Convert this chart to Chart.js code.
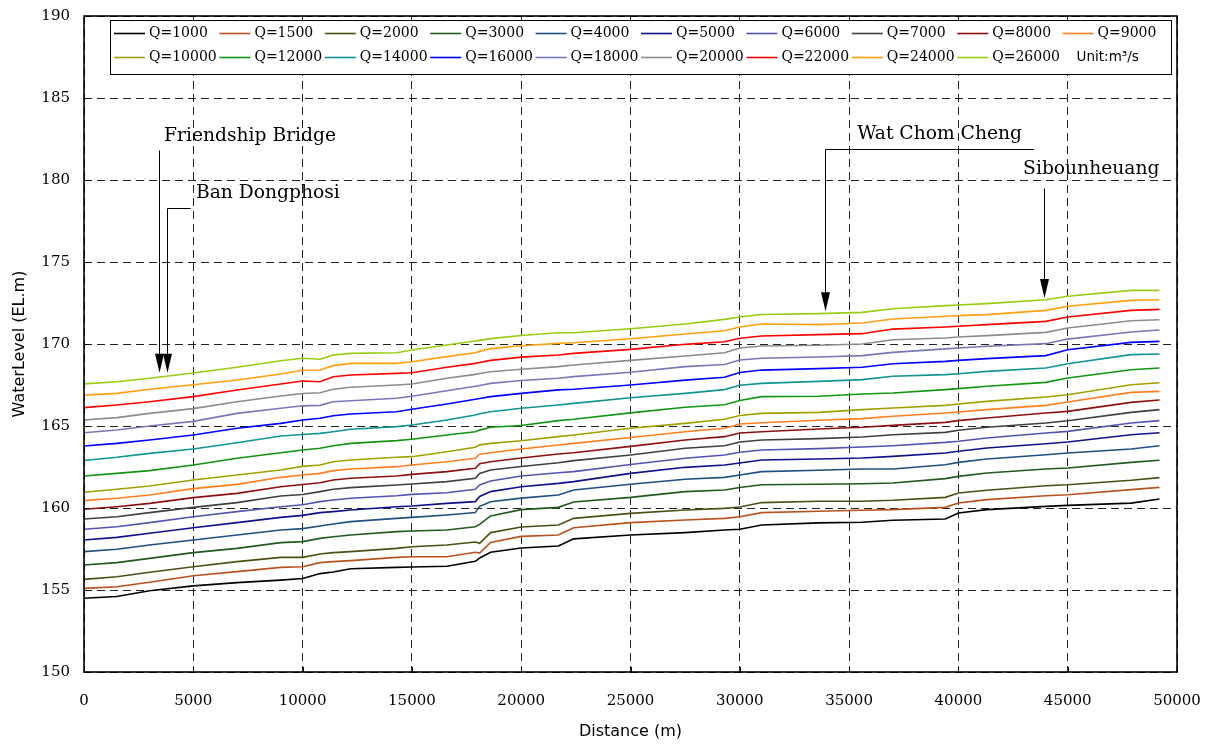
<!DOCTYPE html>
<html>
<head>
<meta charset="utf-8">
<script src="https://cdn.jsdelivr.net/npm/chart.js@4.4.1/dist/chart.umd.min.js"></script>
<style>
  html, body { margin: 0; padding: 0; background: #fff; }
  #wrap { width: 1216px; height: 746px; }
</style>
</head>
<body>
<div id="wrap"><canvas id="profile" width="1216" height="746"></canvas></div>
<script>
// distance along the river (m)
const distances = [0, 1500, 3000, 5000, 7000, 9000, 10000, 10800, 11400, 12200, 14300, 15000, 16600, 17900, 18100, 18600, 20000,
  21700, 22400, 25000, 27500, 29300, 30000, 31000, 33600, 35600, 37000, 39400, 40000, 41300, 44000, 45000, 47900, 49200];

const flows = [1000, 1500, 2000, 3000, 4000, 5000, 6000, 7000, 8000, 9000, 10000, 12000, 14000, 16000, 18000, 20000, 22000, 24000, 26000];

// water level (EL.m) for each discharge
const wl1000 = [154.5, 154.6, 154.95, 155.25, 155.45, 155.6, 155.7, 156.0, 156.1, 156.3, 156.38, 156.4, 156.45, 156.75, 156.95, 157.3, 157.56,
  157.68, 158.12, 158.35, 158.5, 158.66, 158.7, 158.96, 159.09, 159.13, 159.25, 159.33, 159.7, 159.9, 160.1, 160.16, 160.3, 160.55];
const wl1500 = [155.1, 155.2, 155.47, 155.87, 156.12, 156.38, 156.42, 156.67, 156.73, 156.79, 156.99, 157.03, 157.03, 157.3, 157.25, 157.9, 158.27,
  158.35, 158.8, 159.11, 159.27, 159.37, 159.47, 159.72, 159.8, 159.86, 159.9, 160.04, 160.3, 160.51, 160.75, 160.81, 161.12, 161.26];
const wl2000 = [155.65, 155.81, 156.08, 156.42, 156.73, 156.99, 156.99, 157.2, 157.28, 157.34, 157.54, 157.64, 157.74, 157.93, 157.85, 158.5, 158.84,
  158.96, 159.37, 159.67, 159.88, 159.98, 160.06, 160.33, 160.41, 160.41, 160.47, 160.65, 160.91, 161.08, 161.36, 161.42, 161.69, 161.85];
const wl3000 = [156.52, 156.67, 156.93, 157.28, 157.54, 157.89, 157.95, 158.15, 158.25, 158.35, 158.56, 158.6, 158.66, 158.86, 159.0, 159.52, 159.9,
  160.04, 160.37, 160.65, 161.0, 161.1, 161.25, 161.42, 161.45, 161.48, 161.52, 161.79, 161.93, 162.13, 162.38, 162.44, 162.78, 162.91];
const wl4000 = [157.34, 157.48, 157.74, 158.05, 158.35, 158.66, 158.74, 158.9, 159.02, 159.17, 159.37, 159.43, 159.57, 159.72, 160.1, 160.38, 160.6,
  160.79, 161.1, 161.45, 161.75, 161.87, 162.01, 162.22, 162.3, 162.38, 162.38, 162.64, 162.78, 162.99, 163.25, 163.35, 163.6, 163.8];
const wl5000 = [158.05, 158.21, 158.46, 158.8, 159.11, 159.43, 159.55, 159.72, 159.78, 159.88, 160.08, 160.12, 160.28, 160.39, 160.7, 161.0, 161.3,
  161.5, 161.61, 162.11, 162.48, 162.62, 162.74, 162.93, 162.99, 163.05, 163.15, 163.35, 163.46, 163.66, 163.92, 164.02, 164.47, 164.59];
const wl6000 = [158.7, 158.86, 159.11, 159.47, 159.78, 160.08, 160.2, 160.39, 160.49, 160.59, 160.75, 160.83, 160.93, 161.14, 161.4, 161.65, 161.95,
  162.15, 162.22, 162.65, 163.03, 163.23, 163.4, 163.54, 163.62, 163.72, 163.8, 164.0, 164.07, 164.27, 164.57, 164.67, 165.18, 165.33];
const wl7000 = [159.33, 159.47, 159.72, 160.04, 160.33, 160.73, 160.82, 161.0, 161.14, 161.24, 161.4, 161.46, 161.61, 161.81, 162.1, 162.32, 162.53,
  162.76, 162.89, 163.23, 163.64, 163.8, 164.02, 164.15, 164.23, 164.33, 164.47, 164.61, 164.74, 164.92, 165.18, 165.32, 165.83, 166.0];
const wl8000 = [159.92, 160.08, 160.28, 160.63, 160.89, 161.3, 161.43, 161.54, 161.71, 161.81, 161.95, 162.05, 162.22, 162.42, 162.7, 162.82, 163.05,
  163.29, 163.37, 163.76, 164.15, 164.35, 164.57, 164.65, 164.82, 164.92, 165.04, 165.22, 165.33, 165.49, 165.79, 165.89, 166.44, 166.59];
const wl9000 = [160.45, 160.59, 160.79, 161.18, 161.44, 161.87, 162.01, 162.11, 162.28, 162.38, 162.52, 162.62, 162.82, 163.03, 163.28, 163.37, 163.6,
  163.84, 163.94, 164.3, 164.65, 164.86, 165.12, 165.2, 165.35, 165.45, 165.59, 165.79, 165.85, 166.0, 166.26, 166.46, 167.05, 167.11];
const wl10000 = [160.96, 161.14, 161.34, 161.71, 162.01, 162.32, 162.54, 162.62, 162.82, 162.93, 163.09, 163.13, 163.43, 163.7, 163.85, 163.94, 164.1,
  164.35, 164.45, 164.86, 165.16, 165.41, 165.64, 165.77, 165.83, 166.0, 166.1, 166.26, 166.34, 166.5, 166.77, 166.91, 167.52, 167.64];
const wl12000 = [161.95, 162.11, 162.28, 162.62, 163.03, 163.37, 163.54, 163.64, 163.8, 163.94, 164.11, 164.19, 164.45, 164.65, 164.75, 164.92, 165.03,
  165.33, 165.41, 165.8, 166.14, 166.3, 166.56, 166.79, 166.81, 166.95, 167.01, 167.22, 167.28, 167.42, 167.66, 167.93, 168.43, 168.54];
const wl14000 = [162.9, 163.09, 163.33, 163.6, 163.98, 164.39, 164.48, 164.55, 164.65, 164.8, 164.96, 165.06, 165.37, 165.67, 165.75, 165.87, 166.08,
  166.28, 166.38, 166.72, 166.99, 167.22, 167.48, 167.6, 167.72, 167.83, 168.03, 168.13, 168.19, 168.33, 168.54, 168.8, 169.35, 169.39];
const wl16000 = [163.78, 163.94, 164.15, 164.45, 164.86, 165.16, 165.37, 165.47, 165.63, 165.73, 165.87, 166.02, 166.34, 166.63, 166.68, 166.79, 166.99,
  167.2, 167.24, 167.5, 167.8, 167.97, 168.26, 168.41, 168.5, 168.58, 168.8, 168.94, 169.0, 169.11, 169.29, 169.65, 170.1, 170.16];
const wl18000 = [164.59, 164.76, 165.0, 165.28, 165.77, 166.08, 166.23, 166.26, 166.48, 166.54, 166.69, 166.81, 167.15, 167.42, 167.47, 167.6, 167.77,
  167.91, 168.01, 168.28, 168.62, 168.75, 169.02, 169.13, 169.21, 169.29, 169.49, 169.7, 169.76, 169.86, 170.02, 170.3, 170.73, 170.85];
const wl20000 = [165.37, 165.51, 165.77, 166.06, 166.48, 166.83, 166.98, 167.03, 167.24, 167.36, 167.5, 167.56, 167.91, 168.15, 168.2, 168.31, 168.46,
  168.62, 168.72, 169.0, 169.27, 169.47, 169.76, 169.88, 169.92, 170.0, 170.26, 170.37, 170.43, 170.51, 170.71, 170.98, 171.42, 171.48];
const wl22000 = [166.12, 166.28, 166.48, 166.79, 167.2, 167.56, 167.74, 167.7, 168.0, 168.11, 168.21, 168.25, 168.58, 168.82, 168.87, 169.0, 169.2,
  169.33, 169.43, 169.67, 169.98, 170.14, 170.35, 170.49, 170.57, 170.63, 170.91, 171.04, 171.08, 171.18, 171.38, 171.65, 172.05, 172.11];
const wl24000 = [166.88, 166.99, 167.24, 167.52, 167.8, 168.17, 168.4, 168.41, 168.68, 168.82, 168.82, 168.92, 169.23, 169.47, 169.55, 169.72, 169.89,
  170.04, 170.08, 170.32, 170.61, 170.81, 171.04, 171.22, 171.18, 171.28, 171.52, 171.69, 171.73, 171.79, 172.05, 172.3, 172.66, 172.7];
const wl26000 = [167.57, 167.7, 167.91, 168.23, 168.58, 168.98, 169.13, 169.07, 169.33, 169.43, 169.47, 169.63, 169.94, 170.18, 170.22, 170.33, 170.52,
  170.69, 170.69, 170.93, 171.22, 171.5, 171.65, 171.8, 171.85, 171.93, 172.15, 172.34, 172.38, 172.46, 172.7, 172.91, 173.27, 173.27];

const levels = [wl1000, wl1500, wl2000, wl3000, wl4000, wl5000, wl6000, wl7000, wl8000, wl9000,
  wl10000, wl12000, wl14000, wl16000, wl18000, wl20000, wl22000, wl24000, wl26000];

const xTicks = [0, 5000, 10000, 15000, 20000, 25000, 30000, 35000, 40000, 45000, 50000];
const yTicks = [150, 155, 160, 165, 170, 175, 180, 185, 190];

// station names and their distance (m)
const stationNames = ['Friendship Bridge', 'Ban Dongphosi', 'Wat Chom Cheng', 'Sibounheuang'];
const stationDistances = [3440, 3780, 33890, 43920];

const lineColors = [
  '#000000', '#b8521e', '#4e4e14', '#1f5a1f', '#1f5080', '#10108a', '#5454b0', '#404040', '#8c1010', '#ff7f20',
  '#a0a000', '#129612', '#109494', '#0000ff', '#7878b8', '#8c8c8c', '#ff0000', '#ffa010', '#99cc10',
];

const SERIF = "'DejaVu Serif', serif";
const SANS = "'DejaVu Sans', sans-serif";

function buildDatasets() {
  return flows.map((q, k) => ({
    label: `Q=${q}`,
    data: distances.map((d, i) => ({ x: d, y: levels[k][i] })),
    borderColor: lineColors[k],
    borderWidth: 1.6,
    pointRadius: 0,
    tension: 0,
  }));
}

// solid frame round the plot, with short inward ticks
const frame = {
  id: 'frame',
  afterDatasetsDraw(chart) {
    const { ctx, chartArea: a, scales } = chart;
    ctx.save();
    ctx.strokeStyle = '#000';
    ctx.lineWidth = 1.6;
    ctx.strokeRect(a.left, a.top, a.right - a.left, a.bottom - a.top);
    ctx.lineWidth = 1;
    ctx.beginPath();
    xTicks.forEach((t) => {
      const x = Math.round(scales.x.getPixelForValue(t)) + 0.5;
      ctx.moveTo(x, a.bottom);
      ctx.lineTo(x, a.bottom - 5);
    });
    yTicks.forEach((t) => {
      const y = Math.round(scales.y.getPixelForValue(t)) + 0.5;
      ctx.moveTo(a.left, y);
      ctx.lineTo(a.left + 5, y);
    });
    ctx.stroke();
    ctx.restore();
  },
};

function arrowHead(ctx, x, y) {
  ctx.beginPath();
  ctx.moveTo(x, y);
  ctx.lineTo(x - 4.5, y - 19);
  ctx.lineTo(x + 4.5, y - 19);
  ctx.closePath();
  ctx.fill();
}

// station names with leader arrows
const stations = {
  id: 'stations',
  afterDatasetsDraw(chart) {
    const { ctx, scales } = chart;
    const X = (v) => scales.x.getPixelForValue(v);
    const Y = (v) => scales.y.getPixelForValue(v);
    // label anchor (distance, level), leader start level, elbow end distance, arrow tip level
    const layout = [
      { lx: 3660, ly: 182.4, from: 181.8, elbow: null, tip: 168.25 },
      { lx: 5120, ly: 178.9, from: 178.27, elbow: 4880, tip: 168.25 },
      { lx: 35370, ly: 182.5, from: 181.87, elbow: 43460, tip: 172.0 },
      { lx: 42960, ly: 180.35, from: 179.5, elbow: null, tip: 172.8 },
    ];
    ctx.save();
    ctx.fillStyle = '#000';
    ctx.strokeStyle = '#000';
    ctx.lineWidth = 1;
    ctx.font = `18.7px ${SERIF}`;
    ctx.textBaseline = 'alphabetic';
    ctx.textAlign = 'left';
    stationNames.forEach((name, i) => {
      const L = layout[i];
      const ax = Math.round(X(stationDistances[i])) + 0.5;
      const fy = Math.round(Y(L.from)) + 0.5;
      const ty = Y(L.tip);
      ctx.fillText(name, X(L.lx), Y(L.ly));
      ctx.beginPath();
      if (L.elbow !== null) {
        ctx.moveTo(X(L.elbow), fy);
        ctx.lineTo(ax, fy);
      } else {
        ctx.moveTo(ax, fy);
      }
      ctx.lineTo(ax, ty - 15);
      ctx.stroke();
      arrowHead(ctx, ax, ty);
    });
    ctx.restore();
  },
};

// boxed legend inside the plot, two rows of ten
const legendBox = {
  id: 'legendBox',
  afterDatasetsDraw(chart) {
    const { ctx, chartArea: a } = chart;
    const left = a.left + 26;
    const top = a.top + 4;
    const w = a.right - a.left - 32;
    const h = 54;
    const col = 105.4;
    ctx.save();
    ctx.fillStyle = '#fff';
    ctx.fillRect(left, top, w, h);
    ctx.strokeStyle = '#000';
    ctx.lineWidth = 1;
    ctx.strokeRect(Math.round(left) + 0.5, Math.round(top) + 0.5, Math.round(w), h);
    ctx.font = `14px ${SERIF}`;
    ctx.textBaseline = 'middle';
    chart.data.datasets.forEach((ds, i) => {
      const r = Math.floor(i / 10);
      const c = i % 10;
      const x = left + 4 + c * col;
      const y = Math.round(top + 13 + r * 24) + 0.5;
      ctx.strokeStyle = ds.borderColor;
      ctx.lineWidth = 1.6;
      ctx.beginPath();
      ctx.moveTo(x, y);
      ctx.lineTo(x + 31, y);
      ctx.stroke();
      ctx.fillStyle = '#000';
      ctx.fillText(ds.label, x + 35, y);
    });
    ctx.font = `13.5px ${SANS}`;
    ctx.fillText('Unit:m³/s', left + 4 + 9 * col + 14, Math.round(top + 37));
    ctx.restore();
  },
};

function renderChart() {
  const canvas = document.getElementById('profile');
  new Chart(canvas, {
    type: 'line',
    data: { datasets: buildDatasets() },
    options: {
      responsive: false,
      animation: false,
      devicePixelRatio: 1,
      layout: { padding: { left: 0, right: 39, top: 16, bottom: 0 } },
      plugins: { legend: { display: false }, tooltip: { enabled: false } },
      scales: {
        x: {
          type: 'linear',
          min: 0,
          max: 50000,
          afterFit: (s) => { s.height = 74; s.paddingLeft = 0; s.paddingRight = 0; },
          afterBuildTicks: (s) => { s.ticks = xTicks.map((v) => ({ value: v })); },
          grid: { color: '#222', lineWidth: 1, drawTicks: false },
          border: { display: false, dash: [8, 5] },
          ticks: { padding: 20, color: '#000', maxRotation: 0, font: { family: SERIF, size: 15 }, callback: (v) => String(v) },
          title: { display: true, text: 'Distance (m)', color: '#000', font: { family: SANS, size: 16 }, padding: { top: 0, bottom: 5 } },
        },
        y: {
          type: 'linear',
          min: 150,
          max: 190,
          afterFit: (s) => { s.width = 84; s.paddingTop = 0; s.paddingBottom = 0; },
          afterBuildTicks: (s) => { s.ticks = yTicks.map((v) => ({ value: v })); },
          grid: { color: '#222', lineWidth: 1, drawTicks: false },
          border: { display: false, dash: [8, 5] },
          ticks: { padding: 14, color: '#000', font: { family: SERIF, size: 15 }, callback: (v) => String(v) },
          title: { display: true, text: 'WaterLevel (EL.m)', color: '#000', font: { family: SANS, size: 16 }, padding: { top: 10, bottom: 0 } },
        },
      },
    },
    plugins: [frame, stations, legendBox],
  });
}

document.addEventListener('DOMContentLoaded', renderChart);
</script>
</body>
</html>
